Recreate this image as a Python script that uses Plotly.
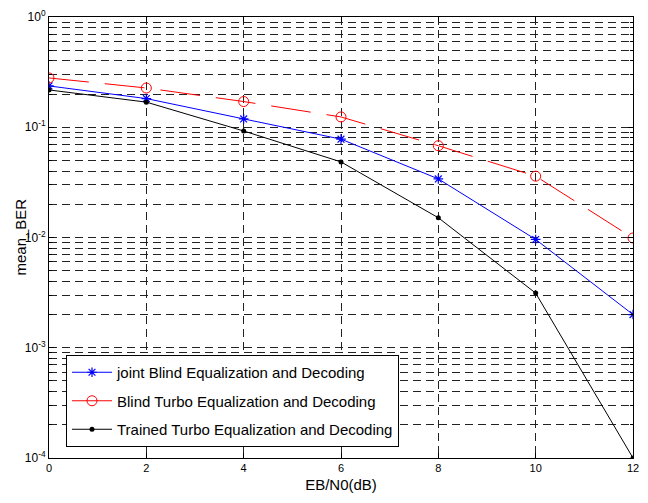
import plotly.graph_objects as go

# Eb/N0 sweep (dB)
ebn0 = [0, 2, 4, 6, 8, 10, 12]

# mean bit error rate per receiver
ber_joint_blind = [0.237, 0.182, 0.119, 0.078, 0.034, 0.0096, 0.0020]
ber_blind_turbo = [0.280, 0.227, 0.171, 0.124, 0.068, 0.036, 0.0099]
ber_trained_turbo = [0.218, 0.169, 0.0925, 0.0485, 0.0151, 0.00313, 0.0001]

series_names = [
    "joint Blind Equalization and Decoding",
    "Blind Turbo Equalization and Decoding",
    "Trained Turbo Equalization and Decoding",
]

x_ticks = [0, 2, 4, 6, 8, 10, 12]
decade_exps = [-4, -3, -2, -1, 0]

decades = [10.0 ** e for e in decade_exps]
decade_text = ["10<sup>%d</sup>" % e for e in decade_exps]
minor_vals = [m * 10.0 ** e for e in decade_exps[:-1] for m in range(2, 10)]

grid_dash = "8px,5px"
grid_color = "#222222"

fig = go.Figure()
fig.add_trace(go.Scatter(
    x=ebn0, y=ber_joint_blind, name=series_names[0], mode="lines+markers",
    legendgroup="a",
    line=dict(color="#0000ff", width=1),
    marker=dict(symbol="asterisk-open", size=8, color="#0000ff",
                line=dict(color="#0000ff", width=1.2)),
))
fig.add_trace(go.Scatter(
    x=ebn0, y=ber_blind_turbo, name=series_names[1], mode="lines+markers",
    legendgroup="b",
    line=dict(color="#ff0000", width=1, dash="40px,16px"),
    marker=dict(symbol="circle-open", size=10, color="#ff0000",
                line=dict(color="#ff0000", width=1)),
))
fig.add_trace(go.Scatter(
    x=ebn0, y=ber_trained_turbo, name=series_names[2], mode="lines+markers",
    legendgroup="c",
    line=dict(color="#000000", width=1),
    marker=dict(symbol="circle", size=5, color="#000000"),
))

fig.update_layout(
    width=648, height=503,
    margin=dict(l=49, r=15, t=17, b=45, autoexpand=False),
    paper_bgcolor="white", plot_bgcolor="white",
    font=dict(family="Liberation Sans, Arial", size=11, color="black"),
    showlegend=True,
    legend=dict(
        x=(66 - 49) / 584, y=(458 - 447) / 441,
        xanchor="left", yanchor="bottom",
        bgcolor="white", bordercolor="black", borderwidth=1,
        font=dict(family="Liberation Sans, Arial", size=15),
        tracegroupgap=6, itemwidth=40,
    ),
)

# y-axis caption placed just left of the tick labels
fig.add_annotation(
    text="mean_BER", textangle=-90, showarrow=False,
    xref="paper", yref="paper", x=(20 - 49) / 584, y=0.5,
    xanchor="center", yanchor="middle",
    font=dict(size=15),
)

fig.update_xaxes(
    range=[0, 12], tickmode="array", tickvals=x_ticks,
    ticks="inside", ticklen=5, tickcolor="black",
    showline=True, linecolor="black", linewidth=1, mirror="ticks",
    showgrid=True, gridcolor=grid_color, griddash=grid_dash, gridwidth=1,
    zeroline=False,
    title=dict(text="EB/N0(dB)", font=dict(size=15), standoff=6),
)

fig.update_yaxes(
    type="log", range=[-4, 0], tickmode="array",
    tickvals=decades, ticktext=decade_text,
    ticks="inside", ticklen=5, tickcolor="black",
    showline=True, linecolor="black", linewidth=1, mirror="ticks",
    showgrid=True, gridcolor=grid_color, griddash=grid_dash, gridwidth=1,
    zeroline=False,
    minor=dict(tickvals=minor_vals, ticks="inside", ticklen=3,
               tickcolor="black", showgrid=True, gridcolor=grid_color,
               griddash=grid_dash, gridwidth=1),
    tickfont=dict(size=12),
)

fig.write_html("out.html")
